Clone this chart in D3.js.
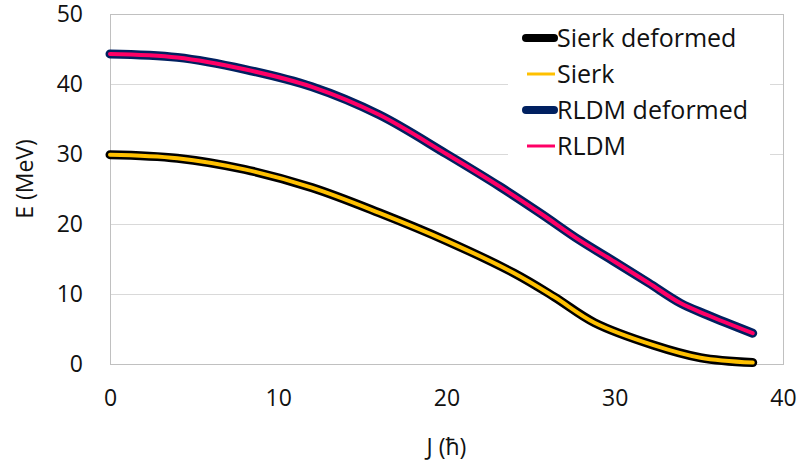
<!DOCTYPE html>
<html>
<head>
<meta charset="utf-8">
<script src="https://cdn.jsdelivr.net/npm/d3@7"></script>
<style>
  html, body { margin: 0; padding: 0; background: #fff; }
  svg { display: block; font-family: "Open Sans", sans-serif; }
</style>
</head>
<body>
<svg id="chart" width="800" height="465"></svg>
<script>
// Angular momentum J (ħ) and energy E (MeV) for each model
const jSierk = [0, 4, 8, 12, 16, 20, 24, 26.4, 28.8, 32.3, 35.1, 38.2];
const eSierk = [29.9, 29.4, 27.8, 25.2, 21.6, 17.6, 13.0, 9.6, 5.9, 2.7, 0.9, 0.2];
const eSierkDeformed = [29.9, 29.4, 27.8, 25.2, 21.6, 17.6, 13.0, 9.6, 5.9, 2.7, 0.9, 0.2];

const jRldm = [0, 4, 8, 12, 16, 20, 23.2, 25.6, 27.9, 30, 32, 33.9, 35.5, 38.2];
const eRldm = [44.3, 43.8, 42.1, 39.6, 35.6, 30.0, 25.3, 21.5, 17.7, 14.6, 11.6, 8.7, 7.0, 4.4];
const eRldmDeformed = [44.3, 43.8, 42.1, 39.6, 35.6, 30.0, 25.3, 21.5, 17.7, 14.6, 11.6, 8.7, 7.0, 4.4];

const xTicks = [0, 10, 20, 30, 40];
const yTicks = [0, 10, 20, 30, 40, 50];

const seriesNames = ["Sierk deformed", "Sierk", "RLDM deformed", "RLDM"];

const svg = d3.select("#chart");
const margin = { left: 110, right: 17, top: 14, bottom: 101 };
const W = 800, H = 465;

const x = d3.scaleLinear().domain([0, 40]).range([margin.left, W - margin.right]);
const y = d3.scaleLinear().domain([0, 50]).range([H - margin.bottom, margin.top]);

// horizontal gridlines
svg.append("g")
  .selectAll("line")
  .data(yTicks)
  .join("line")
  .attr("x1", x(0)).attr("x2", x(40))
  .attr("y1", d => Math.round(y(d)) + 0.5).attr("y2", d => Math.round(y(d)) + 0.5)
  .attr("stroke", "#d9d9d9").attr("stroke-width", 1);

// plot frame
svg.append("rect")
  .attr("x", Math.round(x(0)) + 0.5).attr("y", Math.round(y(50)) + 0.5)
  .attr("width", Math.round(x(40) - x(0))).attr("height", Math.round(y(0) - y(50)))
  .attr("fill", "none").attr("stroke", "#c0c0c0").attr("stroke-width", 1);

// axes (labels only)
const xAxis = d3.axisBottom(x).tickValues(xTicks).tickSize(0).tickPadding(26);
const gx = svg.append("g").attr("transform", `translate(0,${y(0)})`).call(xAxis);
gx.select(".domain").remove();
gx.selectAll("text").attr("font-size", 23).attr("fill", "#111").attr("font-family", "Open Sans");

const yAxis = d3.axisLeft(y).tickValues(yTicks).tickSize(0).tickPadding(27);
const gy = svg.append("g").attr("transform", `translate(${x(0)},0)`).call(yAxis);
gy.select(".domain").remove();
gy.selectAll("text").attr("font-size", 23).attr("fill", "#111").attr("font-family", "Open Sans");

// axis titles
svg.append("text")
  .attr("x", (x(0) + x(40)) / 2).attr("y", 455)
  .attr("text-anchor", "middle").attr("font-size", 23).attr("fill", "#111")
  .text("J (ħ)");
svg.append("text")
  .attr("transform", `translate(33,${(y(0) + y(50)) / 2 - 10}) rotate(-90)`)
  .attr("text-anchor", "middle").attr("font-size", 23).attr("fill", "#111")
  .text("E (MeV)");

// curves: thick "deformed" strokes underneath, thin spherical strokes on top
const line = d3.line().curve(d3.curveCatmullRom.alpha(0.5))
  .x(d => x(d[0])).y(d => y(d[1]));
const zip = (a, b) => a.map((v, i) => [v, b[i]]);

const series = [
  { name: seriesNames[0], pts: zip(jSierk, eSierkDeformed), color: "#000000", width: 9 },
  { name: seriesNames[1], pts: zip(jSierk, eSierk), color: "#FFC000", width: 4 },
  { name: seriesNames[2], pts: zip(jRldm, eRldmDeformed), color: "#002060", width: 9 },
  { name: seriesNames[3], pts: zip(jRldm, eRldm), color: "#FF0066", width: 4 }
];

svg.append("g")
  .selectAll("path")
  .data(series)
  .join("path")
  .attr("d", d => line(d.pts))
  .attr("fill", "none")
  .attr("stroke", d => d.color)
  .attr("stroke-width", d => d.width)
  .attr("stroke-linecap", "round")
  .attr("stroke-linejoin", "round");

// legend
const lg = svg.append("g");
lg.append("rect").attr("x", 508).attr("y", 20).attr("width", 262).attr("height", 146).attr("fill", "#fff");
const rowY = [38, 74, 110, 146];
series.forEach((s, i) => {
  const thick = s.width > 5;
  lg.append("line")
    .attr("x1", thick ? 526 : 527).attr("x2", thick ? 554 : 555)
    .attr("y1", rowY[i]).attr("y2", rowY[i])
    .attr("stroke", s.color)
    .attr("stroke-width", thick ? 8 : 3)
    .attr("stroke-linecap", thick ? "round" : "butt");
  lg.append("text")
    .attr("x", 557).attr("y", rowY[i])
    .attr("dy", "0.35em")
    .attr("font-size", 25).attr("fill", "#111")
    .text(s.name);
});
</script>
</body>
</html>
